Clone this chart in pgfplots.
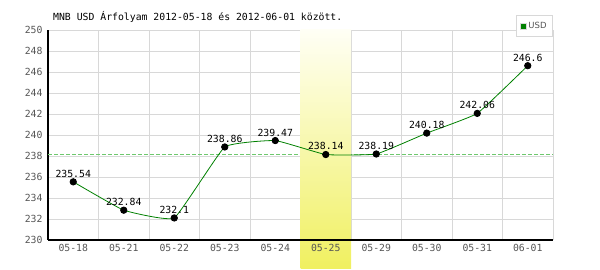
\documentclass[border=0pt]{standalone}
\usepackage{fontspec}
\setmonofont{DejaVu Sans Mono}
\setsansfont{DejaVu Sans}
\usepackage{pgfplots}
\pgfplotsset{compat=1.18}
\definecolor{gridc}{RGB}{216,216,216}
\definecolor{tickc}{RGB}{85,85,85}
\definecolor{linec}{RGB}{0,128,0}
\definecolor{avgc}{RGB}{110,200,110}
\definecolor{yel}{RGB}{240,240,96}
\definecolor{yeltop}{RGB}{255,255,245}
\begin{document}
\begin{tikzpicture}[x=1pt,y=1pt]
\useasboundingbox (0,0) rectangle (600,270);
\node[anchor=west,inner sep=0pt,font=\ttfamily\fontsize{9.8}{11}\selectfont] at (53,253) {MNB USD Árfolyam 2012-05-18 és 2012-06-01 között.};
\begin{axis}[
  at={(48pt,30pt)}, anchor=south west,
  scale only axis, width=505pt, height=210pt,
  xmin=-0.5, xmax=9.5, ymin=230, ymax=250,
  axis lines*=left,
  axis line style={black, line width=1.2pt},
  xtick={0,...,9},
  xticklabels={05-18,05-21,05-22,05-23,05-24,{},05-29,05-30,05-31,06-01},
  minor xtick={-0.5,0.5,...,9.5},
  ytick={230,232,...,250},
  major tick length=0pt, minor tick length=0pt,
  xmajorgrids=false, xminorgrids=true, ymajorgrids=true,
  grid style={gridc, line width=0.8pt},
  minor grid style={gridc, line width=0.8pt},
  tick label style={font=\ttfamily\fontsize{9.8}{11}\selectfont, text=tickc},
  /pgf/number format/assume math mode=true,
  yticklabel style={xshift=-2pt},
  xticklabel style={yshift=-1pt},
  clip=false,
  legend style={at={(rel axis cs:1,1.0714)}, anchor=north east, draw=gridc, line width=0.8pt,
    font=\sffamily\fontsize{8.5}{9}\selectfont, text=tickc, inner xsep=4pt, inner ysep=4.5pt,
    legend cell align=left},
  legend image code/.code={\fill[linec, draw=gridc, line width=0.4pt] (1pt,-3pt) rectangle (7pt,3pt);},
]
\addplot[avgc, dash pattern=on 4pt off 2pt, line width=0.9pt, forget plot] coordinates {(-0.5,238.1) (9.5,238.1)};
\fill[top color=yeltop, bottom color=yel] (axis cs:4.5,250) rectangle (axis cs:5.5,227.3);
\draw[black, line width=1.2pt] (rel axis cs:0,0) -- (rel axis cs:1,0);
\node[anchor=north, yshift=-1pt, font=\ttfamily\fontsize{9.8}{11}\selectfont, text=tickc] at (axis cs:5,230) {05-25};
\addplot[linec, line width=0.8pt, smooth, tension=0.2,
  mark=*, mark size=3.2pt, mark options={black, fill=black, solid},
  nodes near coords, point meta=explicit symbolic,
  every node near coord/.append style={font=\ttfamily\fontsize{9.8}{11}\selectfont, text=black, inner sep=0pt, yshift=4pt}]
  coordinates {
  (0,235.54) [235.54]
  (1,232.84) [232.84]
  (2,232.1) [232.1]
  (3,238.86) [238.86]
  (4,239.47) [239.47]
  (5,238.14) [238.14]
  (6,238.19) [238.19]
  (7,240.18) [240.18]
  (8,242.06) [242.06]
  (9,246.6) [246.6]
  };
\addlegendentry{USD}
\end{axis}
\end{tikzpicture}
\end{document}
